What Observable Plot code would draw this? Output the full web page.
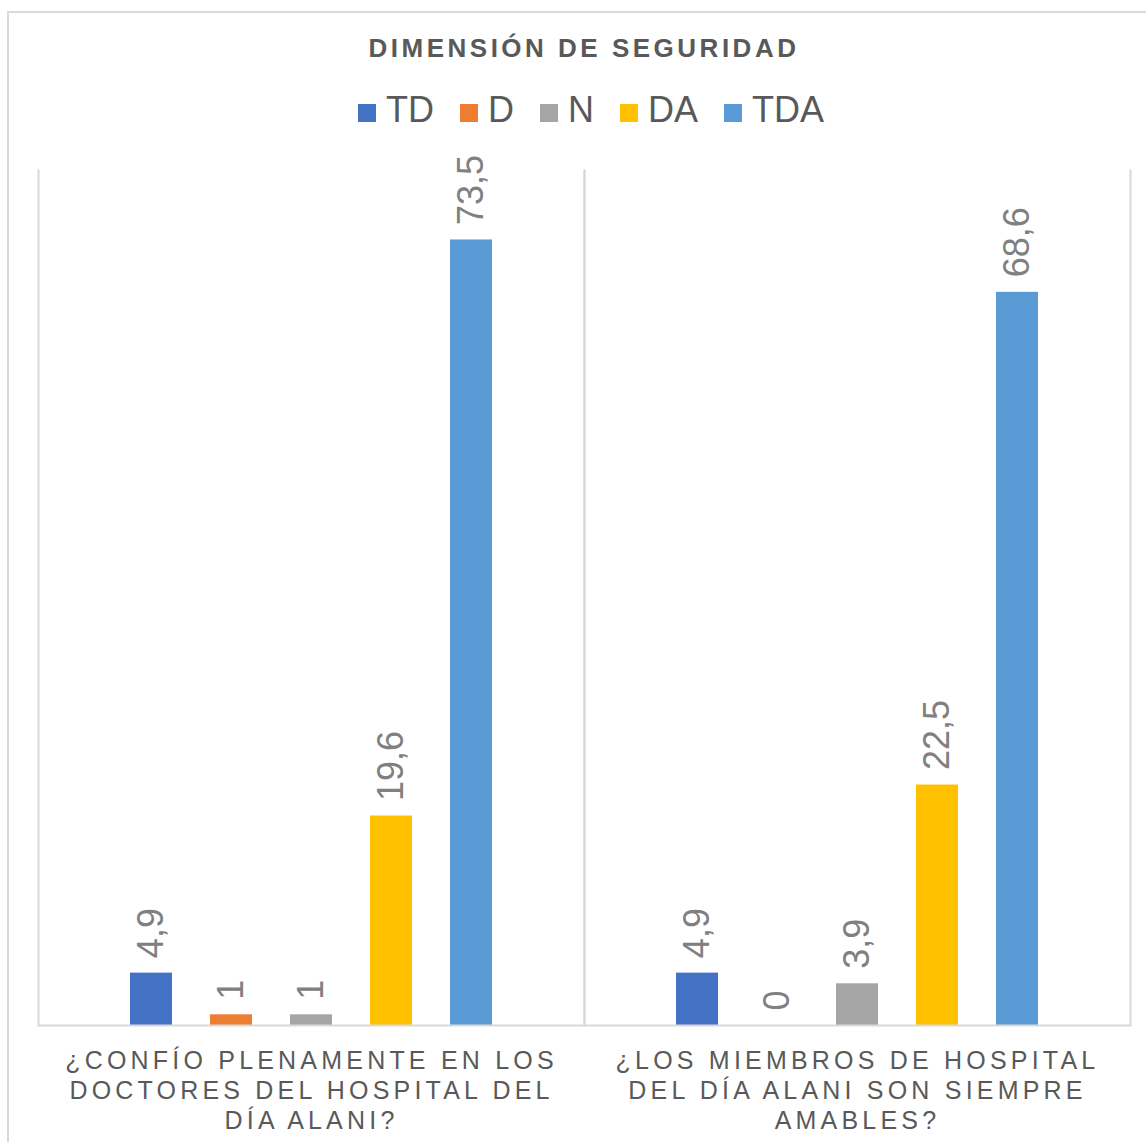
<!DOCTYPE html>
<html>
<head>
<meta charset="utf-8">
<script src="https://cdn.jsdelivr.net/npm/d3@7"></script>
<script src="https://cdn.jsdelivr.net/npm/@observablehq/plot@0.6"></script>
<style>
  html, body { margin: 0; padding: 0; background: #fff; }
  #wrap { position: relative; width: 1146px; height: 1142px; overflow: hidden; font-family: "Liberation Sans", Arial, sans-serif; }
  #border { position: absolute; left: 7px; top: 11px; width: 1200px; height: 1200px; border-top: 2px solid #d9d9d9; border-left: 2px solid #d9d9d9; box-sizing: border-box; }
  #title { position: absolute; left: 0; top: 35px; width: 1146px; padding-left: 22px; box-sizing: border-box; text-align: center; font-size: 26px; line-height: 26px; font-weight: bold; letter-spacing: 3.5px; color: #595959; }
  #legend { position: absolute; left: 358px; top: 92px; display: flex; align-items: center; height: 36px; font-size: 36px; line-height: 36px; color: #595959; }
  .item { display: flex; align-items: center; margin-right: 26px; }
  .sw { width: 18px; height: 18px; margin-right: 10px; margin-top: 6px; }
  #chart { position: absolute; left: 0; top: 150px; }
  #chart svg { overflow: visible; }
  #chart [aria-label="fx-axis tick label"] { letter-spacing: 4.2px; }
</style>
</head>
<body>
<div id="wrap">
  <div id="border"></div>
  <div id="title"></div>
  <div id="legend"></div>
  <div id="chart"></div>
</div>
<script>
const titleText = "DIMENSIÓN DE SEGURIDAD";
const series = ["TD", "D", "N", "DA", "TDA"];
const colors = ["#4472C4", "#ED7D31", "#A5A5A5", "#FFC000", "#5B9BD5"];
const questions = ["q1", "q2"];
const questionLabels = [
  ["¿CONFÍO PLENAMENTE EN LOS", "DOCTORES DEL HOSPITAL DEL", "DÍA ALANI?"],
  ["¿LOS MIEMBROS DE HOSPITAL", "DEL DÍA ALANI SON SIEMPRE", "AMABLES?"]
];
const q1Values = [4.9, 1, 1, 19.6, 73.5];
const q2Values = [4.9, 0, 3.9, 22.5, 68.6];

const data = [];
[q1Values, q2Values].forEach((vals, qi) => {
  vals.forEach((v, si) => data.push({question: questions[qi], series: series[si], value: v}));
});

const fmt = v => String(v).replace(".", ",");

document.getElementById("title").textContent = titleText;
const legend = document.getElementById("legend");
series.forEach((s, i) => {
  const it = document.createElement("div");
  it.className = "item";
  const sw = document.createElement("div");
  sw.className = "sw";
  sw.style.background = colors[i];
  const tx = document.createElement("span");
  tx.textContent = s;
  it.appendChild(sw);
  it.appendChild(tx);
  legend.appendChild(it);
});

const chart = Plot.plot({
  width: 1146,
  height: 992,
  marginLeft: 37,
  marginRight: 16,
  marginTop: 20,
  marginBottom: 117,
  style: {fontFamily: "Liberation Sans, Arial, sans-serif", background: "transparent"},
  fx: {domain: questions, padding: 0, label: null},
  x: {domain: series, paddingInner: 0.475, paddingOuter: 1.15, axis: null},
  y: {domain: [0, 80], axis: null},
  color: {domain: series, range: colors},
  marks: [
    Plot.frame({anchor: "left", stroke: "#d9d9d9", strokeWidth: 2}),
    Plot.frame({anchor: "right", stroke: "#d9d9d9", strokeWidth: 2}),
    Plot.barY(data, {fx: "question", x: "series", y: "value", fill: "series"}),
    Plot.ruleY([0], {stroke: "#d9d9d9", strokeWidth: 2}),
    Plot.text(data, {
      fx: "question", x: "series", y: "value",
      text: d => fmt(d.value),
      rotate: -90, textAnchor: "start", dy: -15,
      fill: "#808080", fontSize: 36
    }),
    Plot.axisFx({
      anchor: "bottom", tickSize: 0, tickPadding: 22, fontSize: 25, lineHeight: 1.2,
      tickFormat: q => questionLabels[questions.indexOf(q)].join("\n"),
      label: null, fill: "#595959"
    })
  ]
});
document.getElementById("chart").appendChild(chart);
</script>
</body>
</html>
